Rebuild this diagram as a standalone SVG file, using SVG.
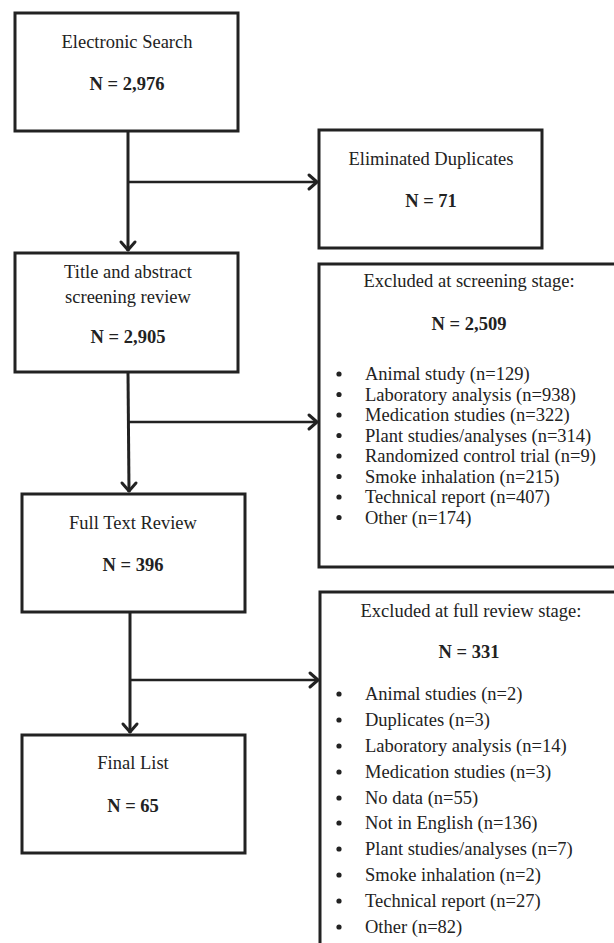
<svg xmlns="http://www.w3.org/2000/svg" width="614" height="943" viewBox="0 0 614 943">
<style>
.box{fill:#fff;stroke:#222;stroke-width:3}
.t{font-family:"Liberation Serif","Times New Roman",serif;font-size:18.5px;fill:#222}
.c{text-anchor:middle}
.b{font-weight:bold}
.ln{fill:none;stroke:#222;stroke-width:3}
.h{fill:none;stroke:#222;stroke-width:2.5}
.ah{fill:none;stroke:#222;stroke-width:3;stroke-linecap:round;stroke-linejoin:round}
.dot{fill:#222}
</style>
<rect width="614" height="943" fill="#fff"/>
<g id="connectors">
<line class="ln" x1="128" y1="131" x2="128" y2="251"/>
<polyline class="ah" points="121,242 128,250 135,242"/>
<line class="h" x1="128" y1="182" x2="317" y2="182"/>
<polyline class="ah" points="309,175 317,182 309,189"/>
<line class="ln" x1="128" y1="372" x2="129" y2="492"/>
<polyline class="ah" points="122,483 129,491 136,483"/>
<line class="h" x1="128" y1="422" x2="317" y2="422"/>
<polyline class="ah" points="309,415 317,422 309,429"/>
<line class="ln" x1="130" y1="612" x2="130" y2="733"/>
<polyline class="ah" points="123,724 130,732 137,724"/>
<line class="h" x1="130" y1="680" x2="318" y2="680"/>
<polyline class="ah" points="310,673 318,680 310,687"/>
</g>
<g id="electronic-search">
<rect class="box" x="15" y="13" width="223" height="118"/>
<text class="t c" x="127" y="48">Electronic Search</text>
<text class="t c b" x="127" y="90">N = 2,976</text>
</g>
<g id="eliminated-duplicates">
<rect class="box" x="319" y="130" width="223" height="118"/>
<text class="t c" x="431" y="165">Eliminated Duplicates</text>
<text class="t c b" x="431" y="207">N = 71</text>
</g>
<g id="title-abstract">
<rect class="box" x="15" y="253" width="223" height="119"/>
<text class="t c" x="128" y="278">Title and abstract</text>
<text class="t c" x="128" y="303">screening review</text>
<text class="t c b" x="128" y="343">N = 2,905</text>
</g>
<g id="excluded-screening">
<rect class="box" x="319" y="264" width="305" height="303"/>
<text class="t c" x="469" y="287">Excluded at screening stage:</text>
<text class="t c b" x="469" y="330">N = 2,509</text>
<g>
<circle class="dot" cx="339" cy="374" r="2.6"/><text class="t" x="365" y="380">Animal study (n=129)</text>
<circle class="dot" cx="339" cy="394.5" r="2.6"/><text class="t" x="365" y="400.5">Laboratory analysis (n=938)</text>
<circle class="dot" cx="339" cy="415" r="2.6"/><text class="t" x="365" y="421">Medication studies (n=322)</text>
<circle class="dot" cx="339" cy="435.5" r="2.6"/><text class="t" x="365" y="441.5">Plant studies/analyses (n=314)</text>
<circle class="dot" cx="339" cy="456" r="2.6"/><text class="t" x="365" y="462">Randomized control trial (n=9)</text>
<circle class="dot" cx="339" cy="476.5" r="2.6"/><text class="t" x="365" y="482.5">Smoke inhalation (n=215)</text>
<circle class="dot" cx="339" cy="497" r="2.6"/><text class="t" x="365" y="503">Technical report (n=407)</text>
<circle class="dot" cx="339" cy="517.5" r="2.6"/><text class="t" x="365" y="523.5">Other (n=174)</text>
</g>
</g>
<g id="full-text-review">
<rect class="box" x="22" y="494" width="223" height="118"/>
<text class="t c" x="133" y="529">Full Text Review</text>
<text class="t c b" x="133" y="571">N = 396</text>
</g>
<g id="final-list">
<rect class="box" x="22" y="735" width="223" height="118"/>
<text class="t c" x="133" y="769">Final List</text>
<text class="t c b" x="133" y="812">N = 65</text>
</g>
<g id="excluded-full-review">
<rect class="box" x="320" y="592" width="305" height="360"/>
<text class="t c" x="471" y="617">Excluded at full review stage:</text>
<text class="t c b" x="469" y="658">N = 331</text>
<g>
<circle class="dot" cx="339" cy="694" r="2.6"/><text class="t" x="365" y="700">Animal studies (n=2)</text>
<circle class="dot" cx="339" cy="720" r="2.6"/><text class="t" x="365" y="726">Duplicates (n=3)</text>
<circle class="dot" cx="339" cy="746" r="2.6"/><text class="t" x="365" y="752">Laboratory analysis (n=14)</text>
<circle class="dot" cx="339" cy="772" r="2.6"/><text class="t" x="365" y="778">Medication studies (n=3)</text>
<circle class="dot" cx="339" cy="798" r="2.6"/><text class="t" x="365" y="804">No data (n=55)</text>
<circle class="dot" cx="339" cy="823" r="2.6"/><text class="t" x="365" y="829">Not in English (n=136)</text>
<circle class="dot" cx="339" cy="849" r="2.6"/><text class="t" x="365" y="855">Plant studies/analyses (n=7)</text>
<circle class="dot" cx="339" cy="875" r="2.6"/><text class="t" x="365" y="881">Smoke inhalation (n=2)</text>
<circle class="dot" cx="339" cy="901" r="2.6"/><text class="t" x="365" y="907">Technical report (n=27)</text>
<circle class="dot" cx="339" cy="927" r="2.6"/><text class="t" x="365" y="933">Other (n=82)</text>
</g>
</g>
</svg>
